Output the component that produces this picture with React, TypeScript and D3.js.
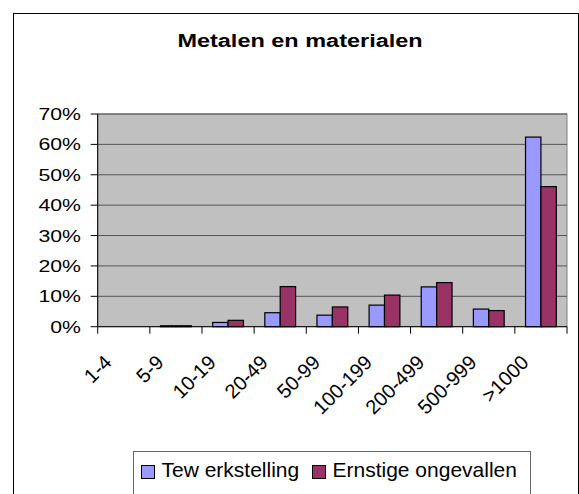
import React from "react";
import * as d3 from "d3";

const categories = ["1-4", "5-9", "10-19", "20-49", "50-99", "100-199", "200-499", "500-999", ">1000"];
const seriesNames = ["Tew erkstelling", "Ernstige ongevallen"];
const tewerkstelling = [0, 0.3, 1.4, 4.6, 3.8, 7.1, 13.1, 5.8, 62.4];
const ongevallen = [0, 0.3, 2.1, 13.2, 6.5, 10.4, 14.5, 5.3, 46.1];
const yTicks = [0, 10, 20, 30, 40, 50, 60, 70];
const colors = ["#9999FF", "#993366"];

const W = 579;
const H = 494;
const plot = { left: 97.7, right: 567, top: 114, bottom: 326.7 };
const FONT = "'Liberation Sans', Arial, sans-serif";

export default function App() {
  const x = d3.scaleBand<string>().domain(categories).range([plot.left, plot.right]).paddingInner(0).paddingOuter(0);
  const y = d3.scaleLinear().domain([0, 70]).range([plot.bottom, plot.top]);
  const barW = 15.4;
  const sx = d3.scaleBand<number>().domain([0, 1]).range([0, barW * 2]);
  const series = [tewerkstelling, ongevallen];
  const bw = x.bandwidth();

  return (
    <svg width={W} height={H} style={{ position: "absolute", left: 0, top: 0, display: "block" }}>
      <rect x={0} y={0} width={W} height={H} fill="#ffffff" />
      {/* outer chart border */}
      <rect x={13.5} y={13.5} width={565} height={500} fill="none" stroke="#000" strokeWidth={1} />
      {/* title */}
      <text
        x={0}
        y={0}
        transform={`translate(300,47) scale(1.27,1)`}
        textAnchor="middle"
        fontFamily={FONT}
        fontWeight="bold"
        fontSize={18.5}
        fill="#000"
      >
        Metalen en materialen
      </text>
      {/* plot area */}
      <rect
        x={plot.left}
        y={plot.top}
        width={plot.right - plot.left}
        height={plot.bottom - plot.top}
        fill="#C0C0C0"
        stroke="#808080"
        strokeWidth={1}
      />
      {yTicks.map((t) =>
        t > 0 ? (
          <line key={"g" + t} x1={plot.left} x2={plot.right} y1={y(t)} y2={y(t)} stroke="#555555" strokeWidth={1} />
        ) : null
      )}
      {/* bars */}
      {categories.map((c, i) =>
        series.map((s, j) => {
          const x0 = (x(c) as number) + (bw - barW * 2) / 2 + (sx(j) as number);
          const y0 = y(s[i]);
          return (
            <rect
              key={c + j}
              x={x0}
              y={y0}
              width={sx.bandwidth()}
              height={Math.max(0, plot.bottom - y0)}
              fill={colors[j]}
              stroke="#000"
              strokeWidth={1.2}
            />
          );
        })
      )}
      {/* axes */}
      <line x1={plot.left} x2={plot.left} y1={plot.top} y2={plot.bottom} stroke="#000" strokeWidth={1} />
      <line x1={plot.left} x2={plot.right} y1={plot.bottom} y2={plot.bottom} stroke="#000" strokeWidth={1} />
      {yTicks.map((t) => (
        <g key={"yt" + t}>
          <line x1={plot.left - 7} x2={plot.left} y1={y(t)} y2={y(t)} stroke="#000" strokeWidth={1} />
          <text
            transform={`translate(81,${y(t) + 6}) scale(1.25,1)`}
            textAnchor="end"
            fontFamily={FONT}
            fontSize={17}
            fill="#000"
          >
            {t + "%"}
          </text>
        </g>
      ))}
      {[...categories.map((c) => x(c) as number), plot.right].map((v, i) => (
        <line key={"xt" + i} x1={v} x2={v} y1={plot.bottom} y2={plot.bottom + 7} stroke="#000" strokeWidth={1} />
      ))}
      {categories.map((c) => {
        const cx = (x(c) as number) + bw / 2 - 11;
        return (
          <text
            key={"xl" + c}
            transform={`translate(${cx},${plot.bottom + 37}) rotate(-45)`}
            textAnchor="end"
            fontFamily={FONT}
            fontSize={20}
            fill="#000"
          >
            {c}
          </text>
        );
      })}
      {/* legend */}
      <rect x={133.5} y={451.5} width={397} height={60} fill="#fff" stroke="#666666" strokeWidth={1} />
      {seriesNames.map((n, j) => {
        const lx = j === 0 ? 141.5 : 312.5;
        return (
          <g key={"lg" + j}>
            <rect x={lx} y={465.5} width={13} height={13} fill={colors[j]} stroke="#000" strokeWidth={1} />
            <text x={lx + 20} y={477} fontFamily={FONT} fontSize={21} fill="#000">
              {n}
            </text>
          </g>
        );
      })}
    </svg>
  );
}
